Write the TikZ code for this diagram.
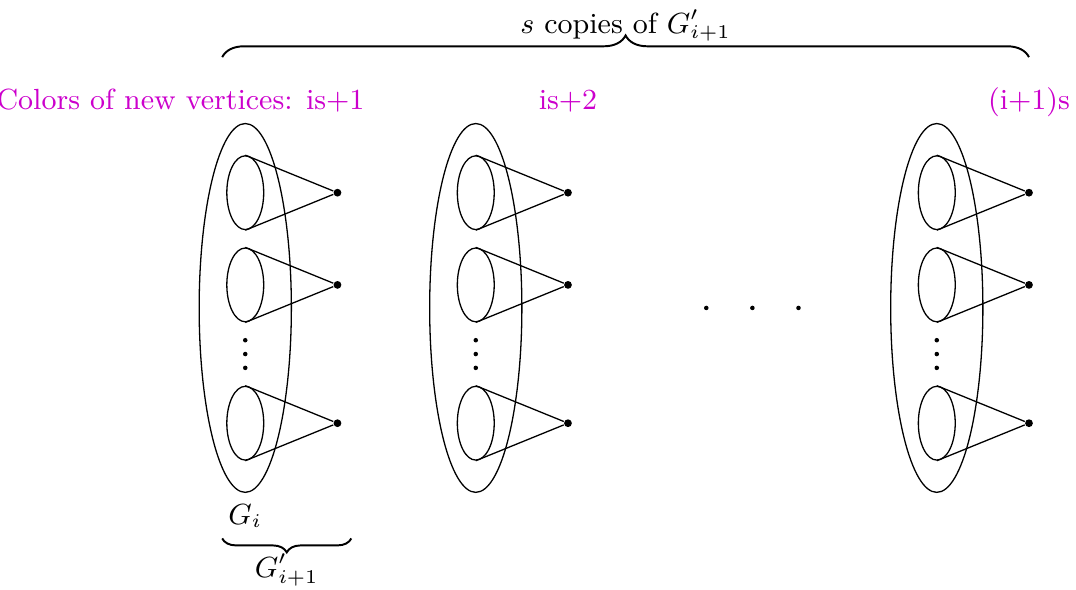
\documentclass[tikz,border=0pt]{standalone}
\usepackage{tikz}
\usetikzlibrary{shapes.geometric, decorations.pathreplacing, positioning}
\definecolor{newcol}{RGB}{204,0,204}

\begin{document}
\begin{tikzpicture}[
    font=\small,
    blob/.style={ellipse, draw, inner sep=0pt, minimum width=1cm, minimum height=4cm},
    part/.style={ellipse, draw, inner sep=0pt, minimum width=0.4cm, minimum height=0.8cm},
    vert/.style={circle, fill, inner sep=0pt, minimum size=2.4pt},
    tiny/.style={circle, fill, inner sep=0pt, minimum size=1.4pt},
    col/.style={text=newcol, inner sep=0pt, anchor=base},
    brc/.style={decorate, semithick}
  ]
  \useasboundingbox (-2.66,-3.05) rectangle (9.01,3.34);

  % the s copies of G'_{i+1}
  \foreach \i/\x in {1/0, 2/2.5, 3/7.5} {
    \node[blob] (g\i) at (\x,0) {};
    \foreach \j/\y in {a/1.25, b/0.25, c/-1.25} {
      \node[part] (p\i\j) at (\x,\y) {};
      \node[vert] (v\i\j) at (\x+1,\y) {};
      \draw (p\i\j.north) -- (v\i\j) -- (p\i\j.south);
    }
    \foreach \y [count=\k] in {-0.35,-0.5,-0.65}
      \node[tiny] (d\i\k) at (\x,\y) {};
  }
  \foreach \x [count=\k] in {5,5.5,6}
    \node[tiny] (h\k) at (\x,0) {};

  % colours
  \node[col, anchor=base east] (c1) at (1.3,2.15) {Colors of new vertices: is+1};
  \node[col] (c2) at (3.5,2.15) {is+2};
  \node[col] (c3) at (8.5,2.15) {(i+1)s};

  % braces
  \coordinate (tl) at (-0.25,2.72);
  \coordinate (tr) at (8.5,2.72);
  \draw[brc, decoration={brace, amplitude=6.7pt}] (tl) -- (tr)
    node[midway, anchor=base, yshift=7.4pt] (top) {$s$ copies of $G'_{i+1}$};

  \node[below=0pt of g1] (gi) {$G_i$};
  \coordinate (bl) at (-0.25,-2.5);
  \coordinate (br) at (1.15,-2.5);
  \draw[brc, decoration={brace, mirror, amplitude=4.3pt}] (bl) -- (br)
    node[midway, anchor=base, yshift=-12pt] (bot) {$G'_{i+1}$};

\end{tikzpicture}
\end{document}
